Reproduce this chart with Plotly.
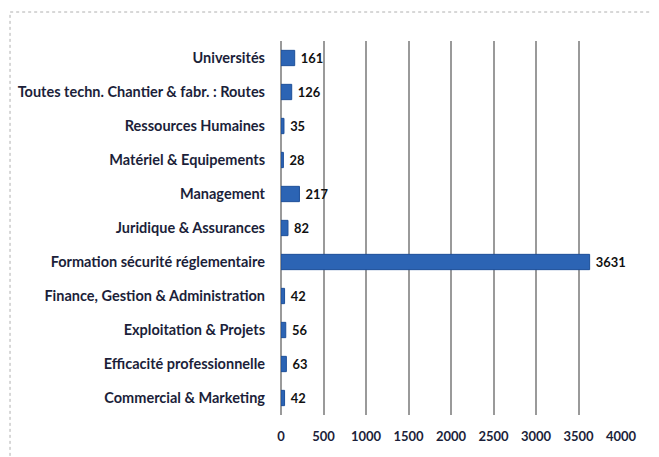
import plotly.graph_objects as go

categories = [
    "Commercial & Marketing",
    "Efficacité professionnelle",
    "Exploitation & Projets",
    "Finance, Gestion & Administration",
    "Formation sécurité réglementaire",
    "Juridique & Assurances",
    "Management",
    "Matériel & Equipements",
    "Ressources Humaines",
    "Toutes techn. Chantier & fabr. : Routes",
    "Universités",
]
values = [42, 63, 56, 42, 3631, 82, 217, 28, 35, 126, 161]
x_ticks = [0, 500, 1000, 1500, 2000, 2500, 3000, 3500, 4000]

txt_color = "#1c1f3a"
fnt = "Lato"

fig = go.Figure()
fig.add_trace(go.Bar(
    y=categories,
    x=values,
    orientation="h",
    width=0.45,
    marker=dict(color="#2c64b4", line=dict(color="#1d4f99", width=1)),
    text=["\u00a0" + str(v) for v in values],
    textposition="outside",
    cliponaxis=False,
    textfont=dict(family=fnt, size=13.5, color="#111111", weight="bold"),
))

fig.update_layout(
    width=659, height=457,
    margin=dict(l=273, r=46, t=33, b=50, autoexpand=False),
    paper_bgcolor="white", plot_bgcolor="white",
    showlegend=False,
    font=dict(family=fnt, size=14, color=txt_color),
    xaxis=dict(
        range=[0, 4000],
        tickvals=x_ticks,
        ticktext=[str(t) for t in x_ticks],
        showgrid=True, gridcolor="#9a9a9a", gridwidth=1.5,
        zeroline=True, zerolinecolor="#9a9a9a", zerolinewidth=1.5,
        ticklabelstandoff=12,
        automargin=False,
        tickfont=dict(family=fnt, size=13, color=txt_color, weight="bold"),
        fixedrange=True,
    ),
    yaxis=dict(
        categoryorder="array", categoryarray=categories,
        showgrid=False,
        ticklabelstandoff=15,
        automargin=False,
        tickfont=dict(family=fnt, size=14.5, color=txt_color, weight="bold"),
        fixedrange=True,
    ),
    shapes=[dict(
        type="rect", xref="paper", yref="paper",
        x0=-0.797, x1=1.3, y0=-0.3, y1=1.0775,
        line=dict(color="#b0b0b0", width=1, dash="dot"),
        layer="below",
    )],
)

fig.write_html("out.html")
